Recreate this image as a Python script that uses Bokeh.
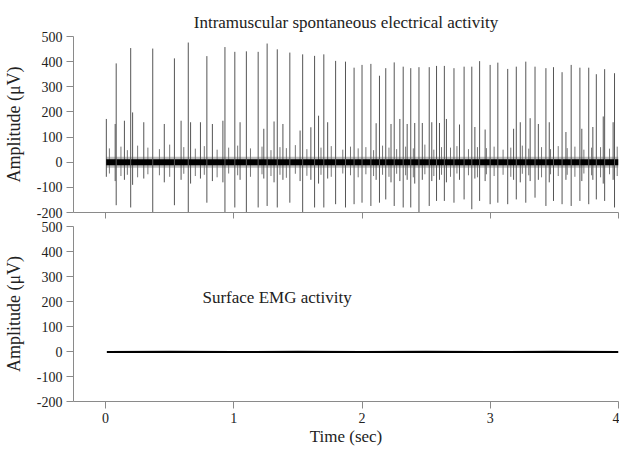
from bokeh.plotting import figure
from bokeh.layouts import column
from bokeh.models import FixedTicker, Label, Range1d
from bokeh.embed import file_html
from bokeh.resources import INLINE

FONT = "Liberation Serif"
TXT = "#222222"
AX = "#8a8a8a"

# ---- data ----
x_ticks = [0, 1, 2, 3, 4]
y_ticks = [-200, -100, 0, 100, 200, 300, 400, 500]
y_tick_labels = {-200: "-200", -100: "-100"}
top_x_tick_labels = {0: "", 1: "", 2: "", 3: "", 4: ""}

# large motor-unit spikes (time s, peak uV, trough uV)
spike_t = [0.083, 0.196, 0.368, 0.537, 0.645, 0.790, 0.931, 1.008, 1.098, 1.190,
           1.260, 1.339, 1.437, 1.537, 1.630, 1.702, 1.794, 1.871, 1.938, 2.000,
           2.069, 2.136, 2.185, 2.251, 2.321, 2.380, 2.444, 2.524, 2.581, 2.642,
           2.717, 2.796, 2.856, 2.917, 2.999, 3.059, 3.136, 3.203, 3.277, 3.349,
           3.434, 3.493, 3.560, 3.631, 3.699, 3.768, 3.827, 3.892, 3.969]
spike_hi = [393, 454, 452, 413, 476, 422, 458, 439, 441, 439,
            472, 449, 436, 429, 423, 429, 403, 400, 376, 387,
            391, 344, 374, 397, 380, 374, 378, 378, 383, 383,
            374, 380, 380, 402, 387, 396, 371, 380, 400, 380,
            374, 378, 358, 387, 376, 376, 350, 370, 354]
spike_lo = [-171, -180, -198, -171, -198, -161, -198, -180, -198, -180,
            -174, -180, -161, -198, -180, -180, -167, -180, -167, -161,
            -174, -161, -148, -174, -180, -180, -200, -174, -154, -154,
            -161, -148, -187, -154, -167, -161, -167, -148, -161, -141,
            -174, -154, -167, -174, -154, -167, -148, -154, -180]

# medium spikes
mid_t = [0.006, 0.075, 0.147, 0.211, 0.298, 0.458, 0.589, 0.663, 0.740, 0.833,
         0.915, 1.049, 1.234, 1.314, 1.383, 1.517, 1.601, 1.661, 1.732, 2.110,
         2.226, 2.295, 2.352, 2.411, 2.470, 2.544, 2.604, 2.658, 2.760, 2.880,
         2.960, 3.182, 3.234, 3.311, 3.375, 3.460, 3.590, 3.714, 3.800, 3.881,
         3.958]
mid_hi = [172, 152, 165, 198, 159, 152, 165, 159, 159, 152,
          165, 159, 133, 162, 152, 126, 139, 185, 159, 155,
          152, 172, 152, 156, 156, 159, 156, 172, 150, 140,
          130, 133, 159, 175, 152, 159, 120, 133, 140, 182,
          159]
mid_lo = [-58, -75, -70, -90, -65, -80, -70, -85, -65, -75,
          -80, -70, -65, -80, -70, -75, -70, -85, -65, -70,
          -80, -75, -70, -85, -70, -75, -70, -80, -70, -65,
          -75, -70, -80, -75, -70, -80, -70, -75, -70, -85,
          -70]

# small background spikes
small_t = [0.03, 0.12, 0.17, 0.25, 0.33, 0.42, 0.50, 0.61, 0.70, 0.77,
           0.87, 0.96, 1.03, 1.13, 1.22, 1.29, 1.36, 1.41, 1.48, 1.57,
           1.68, 1.76, 1.85, 1.91, 1.97, 2.03, 2.09, 2.16, 2.21, 2.27,
           2.34, 2.40, 2.49, 2.56, 2.62, 2.69, 2.74, 2.83, 2.90, 2.97,
           3.03, 3.10, 3.16, 3.25, 3.30, 3.40, 3.47, 3.53, 3.60, 3.66,
           3.73, 3.79, 3.86, 3.93, 3.99]
small_hi = [55, 62, 48, 66, 58, 52, 70, 60, 54, 64,
            50, 58, 66, 55, 62, 48, 60, 56, 68, 52,
            58, 64, 50, 62, 55, 60, 48, 66, 58, 52,
            62, 55, 70, 50, 60, 58, 64, 52, 60, 56,
            62, 50, 58, 66, 54, 60, 52, 64, 56, 62,
            50, 58, 60, 54, 62]
small_lo = [-45, -55, -50, -60, -48, -52, -58, -46, -55, -50,
            -60, -45, -52, -58, -48, -55, -50, -62, -46, -54,
            -50, -58, -45, -52, -60, -48, -55, -50, -58, -46,
            -52, -60, -48, -55, -50, -58, -45, -52, -60, -48,
            -55, -50, -58, -46, -52, -60, -48, -55, -50, -58,
            -45, -52, -60, -48, -55]

# dense baseline noise envelope
band_t = [0.005, 4.0]
band_hi = [12, 12]
band_lo = [-12, -12]
fuzz_hi = [22, 22]
fuzz_lo = [-22, -22]

# surface EMG trace
surf_t = [0.01, 0.5, 1.0, 1.5, 2.0, 2.5, 3.0, 3.5, 4.0]
surf_v = [-2, -1, -2, -1, -2, -1, -2, -1, -2]


def style(p, show_x_labels):
    p.grid.visible = False
    p.outline_line_color = None
    p.background_fill_color = "white"
    p.border_fill_color = "white"
    for ax in (p.xaxis, p.yaxis):
        ax.axis_line_color = AX
        ax.major_tick_line_color = AX
        ax.minor_tick_line_color = None
        ax.major_tick_in = 0
        ax.major_label_text_font = FONT
        ax.major_label_text_color = TXT
        ax.major_label_text_font_size = "14px"
        ax.axis_label_text_font = FONT
        ax.axis_label_text_color = TXT
        ax.axis_label_text_font_style = "normal"
    p.yaxis.ticker = FixedTicker(ticks=y_ticks)
    p.yaxis.major_label_overrides = y_tick_labels
    p.yaxis.major_tick_out = 7
    p.yaxis.major_label_standoff = 4
    p.yaxis.axis_label = "Amplitude (\u03bcV)"
    p.yaxis.axis_label_text_font_size = "18px"
    p.yaxis.axis_label_standoff = 10
    p.xaxis.ticker = FixedTicker(ticks=x_ticks)
    if show_x_labels:
        p.xaxis.major_tick_out = 7
        p.xaxis.major_label_standoff = 4
        p.xaxis.axis_label = "Time (sec)"
        p.xaxis.axis_label_text_font_size = "17px"
        p.xaxis.axis_label_standoff = 1
    else:
        p.xaxis.major_tick_out = 6
        p.xaxis.major_label_overrides = top_x_tick_labels
        p.xaxis.major_label_text_font_size = "1px"
        p.xaxis.major_label_text_color = None
        p.xaxis.major_label_standoff = 0


p1 = figure(width=619, height=219, x_range=Range1d(-0.25, 4.0), y_range=Range1d(-200, 500),
            output_backend="svg", toolbar_location=None,
            min_border_left=70, min_border_right=1, min_border_top=36, min_border_bottom=7)
p1.title.text = "Intramuscular spontaneous electrical activity"
p1.title.align = "center"
p1.title.text_font = FONT
p1.title.text_font_size = "17px"
p1.title.text_font_style = "normal"
p1.title.text_color = TXT
style(p1, False)

p1.varea(x=band_t, y1=fuzz_lo, y2=fuzz_hi, fill_color="#888888", fill_alpha=0.55)
p1.segment(x0=small_t, y0=small_lo, x1=small_t, y1=small_hi, line_color="#777777", line_width=1)
p1.segment(x0=mid_t, y0=mid_lo, x1=mid_t, y1=mid_hi, line_color="#555555", line_width=1)
p1.varea(x=band_t, y1=band_lo, y2=band_hi, fill_color="black")
p1.segment(x0=spike_t, y0=spike_lo, x1=spike_t, y1=spike_hi, line_color="#555555", line_width=1)

p2 = figure(width=619, height=229, x_range=Range1d(-0.25, 4.0), y_range=Range1d(-200, 500),
            output_backend="svg", toolbar_location=None,
            min_border_left=70, min_border_right=1, min_border_top=7, min_border_bottom=46)
style(p2, True)
p2.line(surf_t, surf_v, line_color="black", line_width=2)
p2.add_layout(Label(x=0.756, y=218, text="Surface EMG activity", text_font=FONT,
                    text_font_size="17px", text_color=TXT, text_baseline="middle"))

layout = column(p1, p2, spacing=0)
open("out.html", "w").write(file_html(layout, INLINE))
